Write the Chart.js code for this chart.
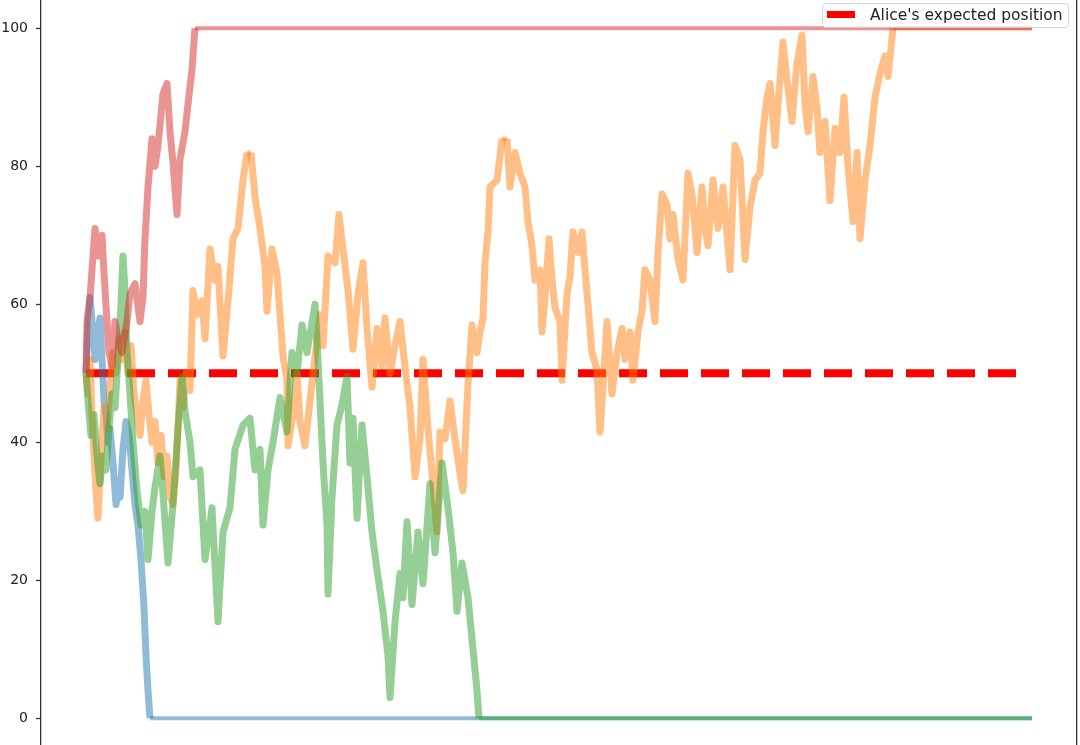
<!DOCTYPE html>
<html>
<head>
<meta charset="utf-8">
<script src="https://cdn.jsdelivr.net/npm/chart.js@4.4.1/dist/chart.umd.min.js"></script>
<style>
  html, body { margin: 0; padding: 0; background: #fff; overflow: hidden; }
  #wrap { position: relative; width: 1080px; height: 745px; }
</style>
</head>
<body>
<div id="wrap"><canvas id="walkChart"></canvas></div>
<script>
// four random walks between 0 and 100 as [step, position]
var blueWalk = [[0,50],[2,57],[4,61],[7,56],[9,52],[11,55],[14,58],[16,52],[18,46],[20,44],[22,40],[24,42],
  [27,37],[30,31],[32,33],[34,32],[37,39],[40,43],[43,41],[46,36],[49,31],[52,28],[55,23],[58,16],[60,9],
  [62,4],[64,0],[946,0]];

var orangeWalk = [[0,50],[2,47],[4,52],[6,44],[8,38],[10,33],[12,29],[14,35],[16,40],[18,45],[21,42],[24,48],
  [27,53],[30,50],[33,55],[36,52],[39,56],[42,50],[45,54],[48,47],[51,44],[54,41],[57,46],[60,49],[63,44],
  [66,40],[69,43],[72,37],[75,41],[78,35],[81,38],[84,32],[87,31],[90,36],[92,42],[94,49],[97,45],[100,50],
  [104,47.5],[107,62],[111,58.5],[116,60.5],[119,55],[124,68],[129,63.5],[132,65.5],[137,52.5],[142,60.5],
  [147,69.5],[152,71],[157,78],[161,82],[165,82],[169,75.5],[174,71],[179,65.5],[181,59],[186,68],[191,64.5],
  [194,58.5],[197,52.5],[201,49],[202,39.5],[207,44],[211,50],[214,43],[219,39.5],[224,46],[229,52.5],
  [234,58.5],[237,54],[242,67],[249,66],[253,73],[257,68],[262,62],[267,53.5],[272,61.5],[277,66],[281,56.5],
  [286,48],[291,56.5],[296,51],[299,58],[304,50],[309,54],[314,57.5],[319,51],[324,45],[329,35],[334,40.5],
  [337,52],[342,42],[347,34],[351,27],[354,41.5],[359,40.5],[364,46],[369,40.5],[374,35.5],[377,33],
  [382,48.5],[386,57],[391,53],[394,56],[397,58],[399,66],[402,70.5],[404,77],[411,78],[416,84],[421,84],
  [424,77],[429,82],[434,79],[439,77],[442,72],[446,68.5],[449,63.5],[454,65],[456,56],[459,61],[463,69.5],
  [466,63.5],[469,59.5],[474,57.5],[476,49],[481,61.5],[484,64],[487,70.5],[492,67.5],[496,70.5],[499,65],
  [502,60],[506,53],[511,50.5],[514,41.5],[517,48],[521,57.5],[526,47],[531,53],[536,56.5],[539,52],[544,56],
  [547,49],[552,56],[556,59],[559,65],[564,63.5],[569,57.5],[572,67.5],[576,76],[581,74.5],[584,69.5],
  [587,73],[592,66.5],[597,63.5],[602,79],[606,76],[611,67.5],[616,77],[619,71],[622,68.5],[627,78],[632,71],
  [637,77],[644,65],[649,83],[654,81],[659,66.5],[664,74],[669,78],[674,79],[677,85],[681,90],[684,92],
  [689,83],[692,89],[697,98],[701,92.5],[706,86.5],[711,95],[716,99],[719,89],[722,85],[727,93],[731,88.5],
  [734,82],[739,86.5],[744,75],[749,85.5],[754,82],[758,90],[762,80],[767,72],[771,82],[774,69.5],[779,78],
  [784,83],[789,90],[794,93.5],[799,96],[802,93],[807,100],[946,100]];

var greenWalk = [[0,50],[2,46],[5,41],[8,44],[11,38],[14,34],[17,38],[20,36],[23,42],[26,47],[29,45],[32,52],
  [35,60],[37,67],[39,62],[41,53],[44,47],[47,40],[51,33],[55,28],[59,30],[62,23],[66,30],[69,33.5],[74,38],
  [77,32.5],[82,22.5],[87,31],[92,42],[96,49.5],[99,44.5],[104,40],[107,35],[114,36],[119,23],[126,30.5],
  [132,14],[137,27],[144,30.5],[149,39],[157,42.5],[164,43.5],[169,36],[174,39],[177,28],[182,36],[187,40],
  [194,46.5],[201,41.5],[206,53],[211,50],[216,57],[221,53],[229,60],[232,52],[237,37],[241,28],[242,18],
  [246,32],[251,42.5],[256,45.5],[261,49.5],[264,37],[267,43.5],[271,29],[276,42.5],[281,35],[286,27],
  [291,21.5],[297,15.5],[302,9],[304,3],[309,14],[314,21],[317,17.5],[321,28.5],[326,16.5],[332,27],
  [337,19.5],[344,34],[349,24],[356,37],[362,30.5],[367,24],[371,15.5],[376,22.5],[382,17.5],[386,11.5],
  [391,4],[393,0],[946,0]];

var redWalk = [[0,50],[1,57.5],[4,61],[9,71],[12,67],[16,70],[18,64.5],[21,57.5],[23,53],[26,51],[29,57.5],
  [32,55],[36,53],[41,57.5],[44,61.5],[49,63],[54,57.5],[57,61],[59,69.5],[62,77],[66,84],[69,80],[72,83],
  [77,90.5],[81,92],[84,85],[87,80.5],[91,73],[94,81],[99,85],[102,89],[106,94],[109,100],[946,100]];

var expectedLine = [[0,50],[932,50]];
var expectedLabel = "Alice's expected position";
var yTicks = [0, 20, 40, 60, 80, 100];

function toPoints(arr) {
  return arr.map(function (p) { return { x: p[0], y: p[1] }; });
}

function walkSet(arr, color, order) {
  return {
    data: toPoints(arr),
    borderColor: color,
    borderWidth: 7,
    borderJoinStyle: 'round',
    pointRadius: 0,
    tension: 0,
    order: order,
    segment: {
      // absorbed (flat) stretches look thinner than the noisy part
      borderWidth: function (c) { return c.p0.parsed.y === c.p1.parsed.y ? 4 : 7; }
    }
  };
}

var legendBox = {
  id: 'legendBox',
  afterDraw: function (chart) {
    var c = chart.ctx;
    var right = chart.chartArea.right - 9;
    var w = 246, h = 24, left = right - w, top = 3.5;
    c.save();
    c.beginPath();
    c.roundRect(left + 0.5, top, w, h, 3);
    c.fillStyle = 'rgba(255,255,255,0.8)';
    c.fill();
    c.strokeStyle = 'rgba(204,204,204,0.8)';
    c.lineWidth = 1;
    c.stroke();
    c.beginPath();
    c.moveTo(left + 5, top + 11);
    c.lineTo(left + 33, top + 11);
    c.strokeStyle = 'red';
    c.lineWidth = 7;
    c.stroke();
    c.fillStyle = '#222';
    c.font = '15.5px "DejaVu Sans"';
    c.textBaseline = 'alphabetic';
    c.fillText(expectedLabel, left + 48, top + 16);
    c.restore();
  }
};

var ctx = document.getElementById('walkChart').getContext('2d');

var walkChart = new Chart(ctx, {
  type: 'line',
  data: {
    datasets: [
      {
        label: expectedLabel,
        data: toPoints(expectedLine),
        borderColor: 'red',
        borderWidth: 8,
        borderDash: [28, 13],
        pointRadius: 0,
        order: 5
      },
      walkSet(blueWalk, 'rgba(31,119,180,0.5)', 4),
      walkSet(orangeWalk, 'rgba(255,127,14,0.5)', 3),
      walkSet(greenWalk, 'rgba(44,160,44,0.5)', 2),
      walkSet(redWalk, 'rgba(214,39,40,0.5)', 1)
    ]
  },
  options: {
    responsive: true,
    maintainAspectRatio: false,
    animation: false,
    layout: { padding: { left: 0, right: 3, top: 0, bottom: 0 } },
    scales: {
      x: {
        type: 'linear',
        display: false,
        min: -45,
        max: 991
      },
      y: {
        type: 'linear',
        min: -3.87,
        max: 104.1,
        afterBuildTicks: function (s) {
          s.ticks = yTicks.map(function (v) { return { value: v }; });
        },
        afterFit: function (s) {
          s.width = 41;
          s.paddingTop = 0;
          s.paddingBottom = 0;
        },
        grid: {
          display: true,
          drawOnChartArea: false,
          drawTicks: true,
          tickLength: 5,
          tickWidth: 1.3,
          tickColor: '#333'
        },
        border: { display: true, color: '#333', width: 1.3 },
        ticks: {
          color: '#222',
          padding: 8,
          font: { family: 'DejaVu Sans', size: 14 }
        }
      },
      yRight: {
        position: 'right',
        ticks: { display: false },
        grid: { display: false, drawTicks: false },
        border: { display: true, color: '#333', width: 1.3 },
        afterFit: function (s) {
          s.width = 0;
          s.paddingTop = 0;
          s.paddingBottom = 0;
        }
      }
    },
    plugins: {
      legend: { display: false },
      tooltip: { enabled: false }
    }
  },
  plugins: [legendBox]
});
</script>
</body>
</html>
